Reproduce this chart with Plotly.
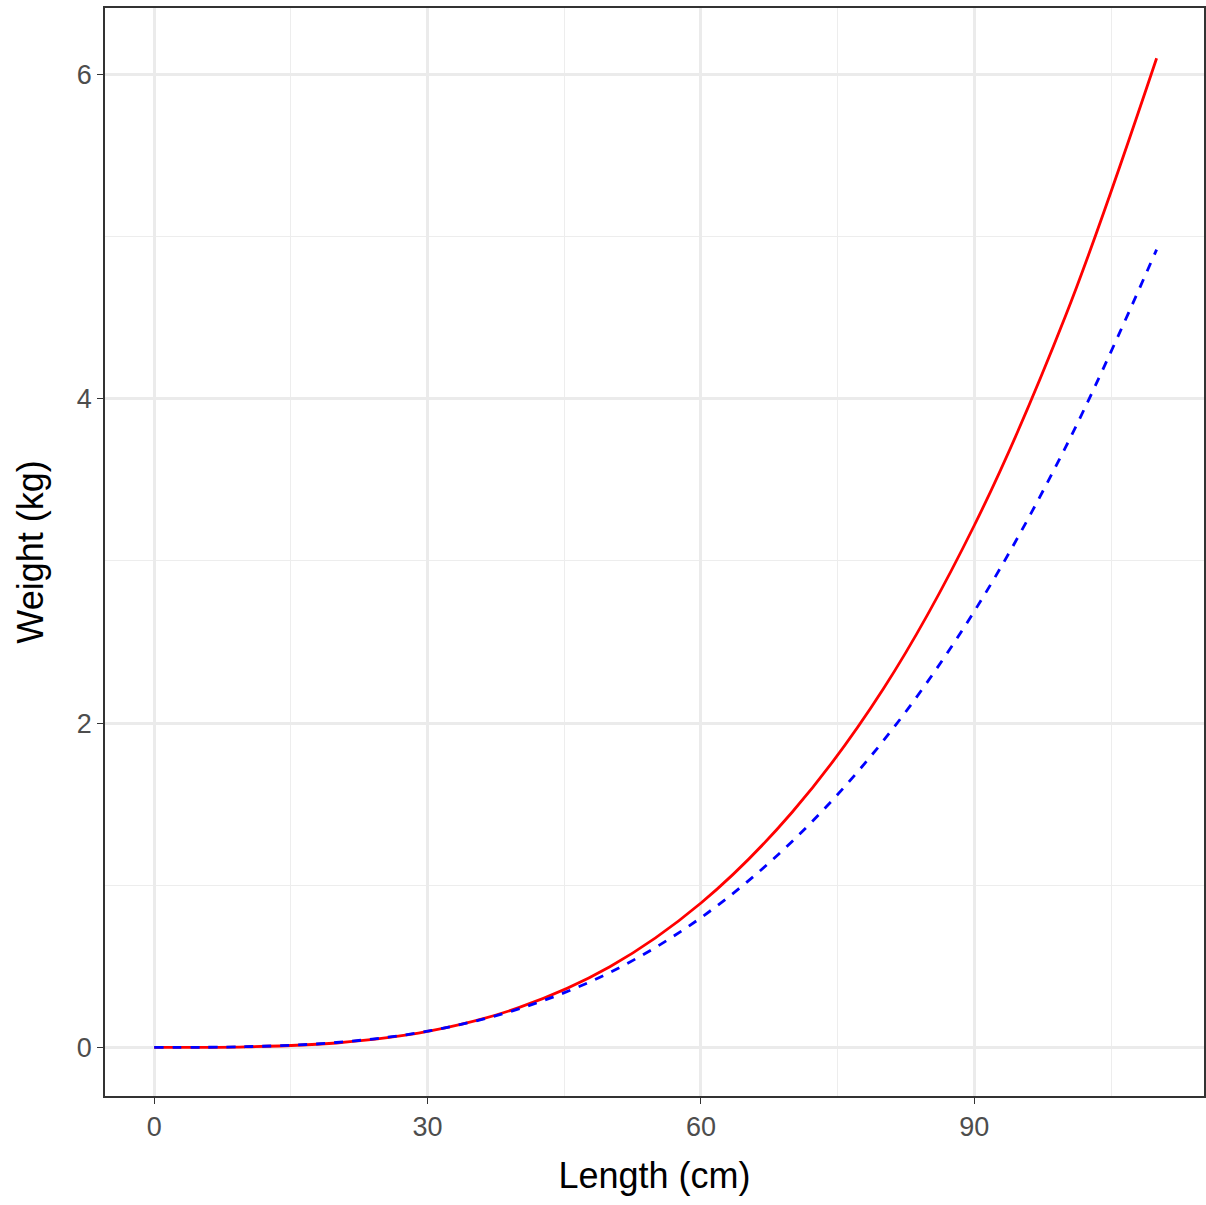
import plotly.graph_objects as go

length = [0, 10, 20, 30, 40, 50, 60, 70, 80, 90, 100, 110]
w_red = [0, 0.003, 0.027, 0.098, 0.245, 0.497, 0.89, 1.45, 2.21, 3.22, 4.51, 6.1]
w_blue = [0, 0.004, 0.030, 0.100, 0.237, 0.462, 0.80, 1.27, 1.89, 2.69, 3.70, 4.92]

fig = go.Figure()
fig.add_trace(go.Scatter(x=length, y=w_red, mode="lines", line=dict(color="red", width=2.8, shape="spline")))
fig.add_trace(go.Scatter(x=length, y=w_blue, mode="lines", line=dict(color="blue", width=2.8, dash="dash", shape="spline")))

ax = dict(showline=True, linecolor="#333", mirror=True, linewidth=1.5, gridcolor="#ebebeb", gridwidth=2.5,
          zeroline=False, ticks="outside", tickcolor="#333", ticklen=6,
          tickfont=dict(size=27, color="#4d4d4d", family="Liberation Sans"),
          minor=dict(showgrid=True, gridcolor="#ededed", gridwidth=1.3))
fig.update_layout(width=1206, height=1205, showlegend=False, plot_bgcolor="white", paper_bgcolor="white",
                  margin=dict(l=105, r=2, t=8, b=109, pad=0, autoexpand=False),
                  xaxis=dict(ax, range=[-5.4, 115.2], tickvals=[0, 30, 60, 90], minor=dict(ax["minor"], dtick=15, tick0=15),
                             title=dict(text="Length (cm)", font=dict(size=36, color="black", family="Liberation Sans"), standoff=22)),
                  yaxis=dict(ax, range=[-0.30, 6.41], tickvals=[0, 2, 4, 6], minor=dict(ax["minor"], dtick=1, tick0=1),
                             title=dict(text="Weight (kg)", font=dict(size=36, color="black", family="Liberation Sans"), standoff=22)))
fig.write_html("out.html", config={"displayModeBar": False})
with open("out.html") as f:
    html = f.read()
html = html.replace("<head>", "<head><style>html,body{margin:0;padding:0;overflow:hidden;}</style>", 1)
with open("out.html", "w") as f:
    f.write(html)
